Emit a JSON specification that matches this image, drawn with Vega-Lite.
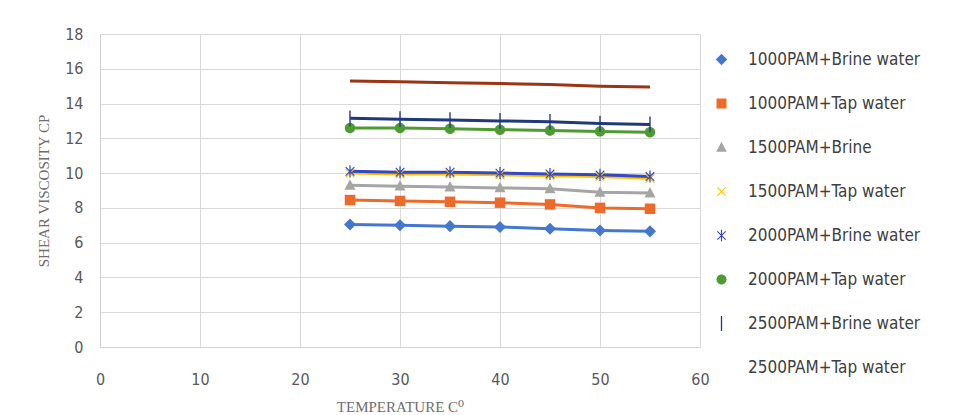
{
  "$schema": "https://vega.github.io/schema/vega-lite/v6.json",
  "width": 600,
  "height": 313,
  "autosize": "none",
  "padding": {"left": 100, "top": 34, "right": 271, "bottom": 68},
  "background": "white",
  "config": {
    "view": {"stroke": null},
    "axis": {
      "gridColor": "#d9d9d9",
      "gridWidth": 1,
      "domainColor": "#d0d0d0",
      "ticks": false,
      "labelFlush": false,
      "labelFont": "Liberation Sans Narrow, DejaVu Sans Condensed, sans-serif",
      "labelFontSize": 16,
      "labelColor": "#595959",
      "titleFont": "Liberation Serif, DejaVu Serif, serif",
      "titleFontWeight": "normal",
      "titleFontSize": 15,
      "titleColor": "#6e6e6e"
    }
  },
  "data": {
    "values": [
      {"t": 25, "series": "1000PAM+Brine water", "v": 7.05},
      {"t": 30, "series": "1000PAM+Brine water", "v": 7.0},
      {"t": 35, "series": "1000PAM+Brine water", "v": 6.95},
      {"t": 40, "series": "1000PAM+Brine water", "v": 6.9},
      {"t": 45, "series": "1000PAM+Brine water", "v": 6.8},
      {"t": 50, "series": "1000PAM+Brine water", "v": 6.7},
      {"t": 55, "series": "1000PAM+Brine water", "v": 6.65},
      {"t": 25, "series": "1000PAM+Tap water", "v": 8.45},
      {"t": 30, "series": "1000PAM+Tap water", "v": 8.4},
      {"t": 35, "series": "1000PAM+Tap water", "v": 8.35},
      {"t": 40, "series": "1000PAM+Tap water", "v": 8.3},
      {"t": 45, "series": "1000PAM+Tap water", "v": 8.2},
      {"t": 50, "series": "1000PAM+Tap water", "v": 8.0},
      {"t": 55, "series": "1000PAM+Tap water", "v": 7.95},
      {"t": 25, "series": "1500PAM+Brine", "v": 9.3},
      {"t": 30, "series": "1500PAM+Brine", "v": 9.25},
      {"t": 35, "series": "1500PAM+Brine", "v": 9.2},
      {"t": 40, "series": "1500PAM+Brine", "v": 9.15},
      {"t": 45, "series": "1500PAM+Brine", "v": 9.1},
      {"t": 50, "series": "1500PAM+Brine", "v": 8.9},
      {"t": 55, "series": "1500PAM+Brine", "v": 8.85},
      {"t": 25, "series": "1500PAM+Tap water", "v": 10.0},
      {"t": 30, "series": "1500PAM+Tap water", "v": 9.95},
      {"t": 35, "series": "1500PAM+Tap water", "v": 9.95},
      {"t": 40, "series": "1500PAM+Tap water", "v": 9.9},
      {"t": 45, "series": "1500PAM+Tap water", "v": 9.85},
      {"t": 50, "series": "1500PAM+Tap water", "v": 9.8},
      {"t": 55, "series": "1500PAM+Tap water", "v": 9.7},
      {"t": 25, "series": "2000PAM+Brine water", "v": 10.1},
      {"t": 30, "series": "2000PAM+Brine water", "v": 10.05},
      {"t": 35, "series": "2000PAM+Brine water", "v": 10.05},
      {"t": 40, "series": "2000PAM+Brine water", "v": 10.0},
      {"t": 45, "series": "2000PAM+Brine water", "v": 9.95},
      {"t": 50, "series": "2000PAM+Brine water", "v": 9.9},
      {"t": 55, "series": "2000PAM+Brine water", "v": 9.8},
      {"t": 25, "series": "2000PAM+Tap water", "v": 12.6},
      {"t": 30, "series": "2000PAM+Tap water", "v": 12.6},
      {"t": 35, "series": "2000PAM+Tap water", "v": 12.55},
      {"t": 40, "series": "2000PAM+Tap water", "v": 12.5},
      {"t": 45, "series": "2000PAM+Tap water", "v": 12.45},
      {"t": 50, "series": "2000PAM+Tap water", "v": 12.4},
      {"t": 55, "series": "2000PAM+Tap water", "v": 12.35},
      {"t": 25, "series": "2500PAM+Brine water", "v": 13.15},
      {"t": 30, "series": "2500PAM+Brine water", "v": 13.1},
      {"t": 35, "series": "2500PAM+Brine water", "v": 13.05},
      {"t": 40, "series": "2500PAM+Brine water", "v": 13.0},
      {"t": 45, "series": "2500PAM+Brine water", "v": 12.95},
      {"t": 50, "series": "2500PAM+Brine water", "v": 12.85},
      {"t": 55, "series": "2500PAM+Brine water", "v": 12.8},
      {"t": 25, "series": "2500PAM+Tap water", "v": 15.3},
      {"t": 30, "series": "2500PAM+Tap water", "v": 15.25},
      {"t": 35, "series": "2500PAM+Tap water", "v": 15.2},
      {"t": 40, "series": "2500PAM+Tap water", "v": 15.15},
      {"t": 45, "series": "2500PAM+Tap water", "v": 15.1},
      {"t": 50, "series": "2500PAM+Tap water", "v": 15.0},
      {"t": 55, "series": "2500PAM+Tap water", "v": 14.95}
    ]
  },
  "encoding": {
    "x": {
      "field": "t", "type": "quantitative",
      "scale": {"domain": [0, 60], "nice": false},
      "axis": {"values": [0, 10, 20, 30, 40, 50, 60], "title": "TEMPERATURE C⁰", "labelPadding": 24, "titlePadding": 12, "grid": true}
    },
    "y": {
      "field": "v", "type": "quantitative",
      "scale": {"domain": [0, 18], "nice": false},
      "axis": {"values": [0, 2, 4, 6, 8, 10, 12, 14, 16, 18], "title": "SHEAR VISCOSITY CP", "labelPadding": 17, "titlePadding": 13, "grid": true}
    },
    "color": {
      "field": "series", "type": "nominal",
      "scale": {
        "domain": ["1000PAM+Brine water", "1000PAM+Tap water", "1500PAM+Brine", "1500PAM+Tap water", "2000PAM+Brine water", "2000PAM+Tap water", "2500PAM+Brine water", "2500PAM+Tap water"],
        "range": ["#4478cf", "#ee6a2a", "#a5a5a5", "#ffc000", "#3448c0", "#4f9b33", "#1f3a78", "#9a3412"]
      }
    }
  },
  "layer": [
    {
      "mark": {"type": "line", "strokeWidth": 3},
      "encoding": {}
    },
    {
      "mark": {"type": "point", "filled": true, "size": 110, "opacity": 1},
      "encoding": {
        "shape": {
          "field": "series", "type": "nominal",
          "scale": {
            "domain": ["1000PAM+Brine water", "1000PAM+Tap water", "1500PAM+Brine", "1500PAM+Tap water", "2000PAM+Brine water", "2000PAM+Tap water", "2500PAM+Brine water", "2500PAM+Tap water"],
            "range": [
              "M0,-1.15L1.15,0L0,1.15L-1.15,0Z",
              "M-1,-1H1V1H-1Z",
              "M0,-1.15L1.05,0.85H-1.05Z",
              "M-0.9,-0.75L-0.75,-0.9L0.9,0.75L0.75,0.9Z M0.75,-0.9L0.9,-0.75L-0.75,0.9L-0.9,0.75Z",
              "M-0.9,-0.75L-0.75,-0.9L0.9,0.75L0.75,0.9Z M0.75,-0.9L0.9,-0.75L-0.75,0.9L-0.9,0.75Z M-0.12,-1.15H0.12V1.15H-0.12Z",
              "M-1,0A1,1 0 1,1 1,0A1,1 0 1,1 -1,0Z",
              "M-0.13,-1.5H0.13V1.5H-0.13Z",
              "M0,0Z"
            ]
          },
          "legend": {
            "title": null,
            "orient": "none",
            "legendX": 613,
            "legendY": 17,
            "symbolSize": 100,
            "symbolStrokeWidth": 0,
            "rowPadding": 26,
            "labelOffset": 18,
            "labelLimit": 300,
            "labelFont": "Liberation Sans Narrow, DejaVu Sans Condensed, sans-serif",
            "labelFontSize": 17,
            "labelColor": "#404040"
          }
        }
      }
    }
  ]
}
